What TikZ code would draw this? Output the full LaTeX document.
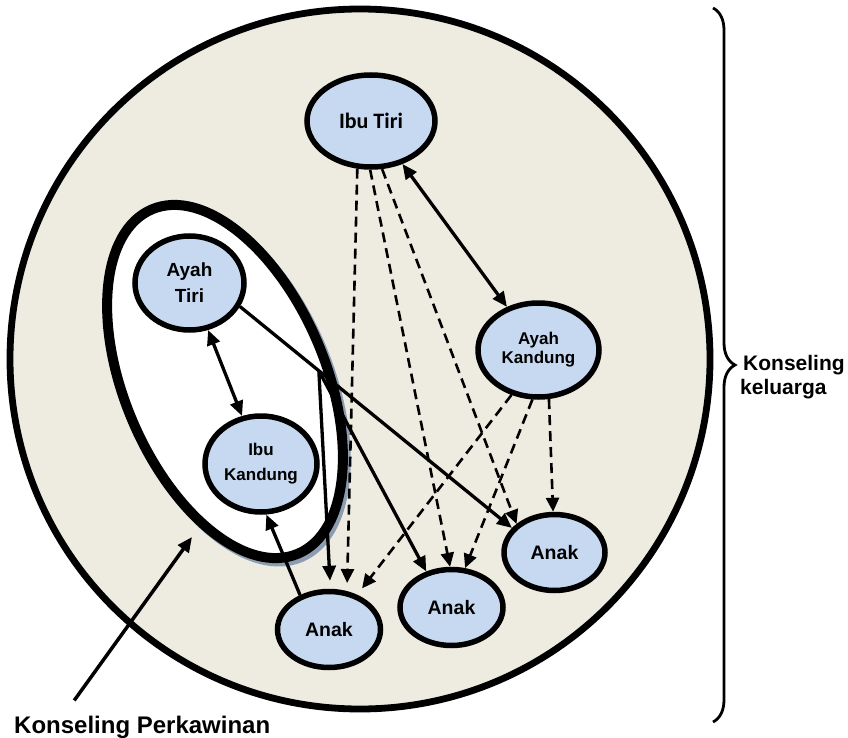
\documentclass[tikz,border=0pt]{standalone}
\usepackage{fontspec}
\setmainfont{Liberation Sans}
\newfontfamily\calfont{Carlito}
\usepackage{tikz}
\usetikzlibrary{arrows.meta,shapes.geometric,calc,decorations.pathreplacing}
\definecolor{famfill}{HTML}{EEECE1}
\definecolor{personfill}{HTML}{C6D9F1}
\definecolor{shadowgray}{HTML}{8D9DB1}
\tikzset{
	person/.style={draw, ellipse, fill=personfill, line width=5.5pt, inner sep=0pt, align=center},
	arrow/.style={-{Triangle[length=15pt,width=13pt]}, line width=3.3pt},
	dualarrow/.style={{Triangle[length=15pt,width=13pt]}-{Triangle[length=15pt,width=13pt]}, line width=3.3pt},
	dashedarrow/.style={-{Triangle[length=14pt,width=13pt]}, dash pattern=on 10pt off 6pt, line width=2.6pt},
	caption/.style={inner sep=0pt}
}

\begin{document}
\begin{tikzpicture}[x=1pt, y=-1pt,
	anakbox/.style={person, minimum width=103pt, minimum height=76pt,
		font=\fontsize{19.5}{22}\selectfont\bfseries},
	]
	\useasboundingbox (0,0) rectangle (848,738);
	
	%% ── Family circle ───────────────────────────────────────────────
	\node[draw, circle, fill=famfill, line width=6.8pt, inner sep=0pt,
	minimum size=700pt] (keluarga) at (360,359) {};
	
	%% ── Marriage ellipse (with shadow) ──────────────────────────────
	\node[ellipse, fill=shadowgray, rotate=-67, inner sep=0pt,
	minimum width=384pt, minimum height=211pt] (perkawinanshadow) at (228,385) {};
	\node[draw, ellipse, fill=white, line width=10pt, rotate=-67, inner sep=0pt,
	minimum width=374pt, minimum height=201pt] (perkawinan) at (225,381.5) {};
	
	%% ── People ──────────────────────────────────────────────────────
	\node[person, minimum width=128pt, minimum height=92pt,
	font=\fontsize{22}{24}\selectfont\calfont\bfseries] (ibutiri) at (371,121) {Ibu Tiri};
	
	\node[person, minimum width=109pt, minimum height=94pt,
	font=\fontsize{19}{26}\selectfont\bfseries] (ayahtiri) at (189.5,283) {Ayah\\Tiri};
	
	\node[person, minimum width=112pt, minimum height=96pt,
	font=\fontsize{17}{25}\selectfont\bfseries] (ibukandung) at (261,464) {Ibu\\Kandung};
	
	\node[person, minimum width=121pt, minimum height=94pt,
	font=\fontsize{17}{19}\selectfont\bfseries] (ayahkandung) at (538.5,350) {Ayah\\Kandung};
	
	\node[anakbox] (anak1) at (329,629.5) {Anak};
	\node[anakbox] (anak2) at (451.5,607.5) {Anak};
	\node[anakbox, minimum width=101pt] (anak3) at (554.5,552.5) {Anak};
	
	%% ── Solid connectors ────────────────────────────────────────────
	\draw[dualarrow] (ibutiri) -- (ayahkandung);
	\draw[dualarrow] (ayahtiri) -- (ibukandung);
	
	\draw[arrow] (ayahtiri.-25) -- (anak3.150);
	\coordinate (split) at ($(ayahtiri.-25)!0.29!(anak3.150)$);
	\draw[arrow, shorten >=8pt] (split) -- (anak1.88);
	\draw[arrow] (split) -- (anak2.125);
	
	\draw[arrow] (anak1.130) -- (ibukandung.-84);
	
	%% ── Dashed connectors ───────────────────────────────────────────
	\draw[dashedarrow, shorten >=8pt] (ibutiri.-106) -- (anak1.65);
	\draw[dashedarrow] (ibutiri.-91) -- (anak2.92);
	\draw[dashedarrow] (ibutiri.-77) -- (anak3.143);
	
	\draw[dashedarrow, shorten >=8pt] (ayahkandung.-121) -- (anak1.51);
	\draw[dashedarrow] (ayahkandung.-97) -- (anak2.71);
	\draw[dashedarrow] (ayahkandung.-78) -- (anak3.92);
	
	%% ── Captions ────────────────────────────────────────────────────
	\node[caption, anchor=base west, font=\fontsize{24}{28}\selectfont\bfseries]
	(kp) at (14,733) {Konseling Perkawinan};
	\coordinate (kptip) at (192,537);
	\draw[arrow, line width=3.5pt] ([xshift=-68pt, yshift=15pt] kp.north) -- (kptip);
	
	\node[caption, anchor=west, align=left, font=\fontsize{21}{24}\selectfont\bfseries]
	(klg) at (740,377) {\hspace{3pt}Konseling\\keluarga};
	
	\coordinate (bracetop) at (713,8);
	\coordinate (bracebot) at (713,722);
	\draw[decorate, decoration={brace, amplitude=22pt}, line width=2.8pt]
	(bracetop) -- (bracebot);
\end{tikzpicture}
\end{document}
